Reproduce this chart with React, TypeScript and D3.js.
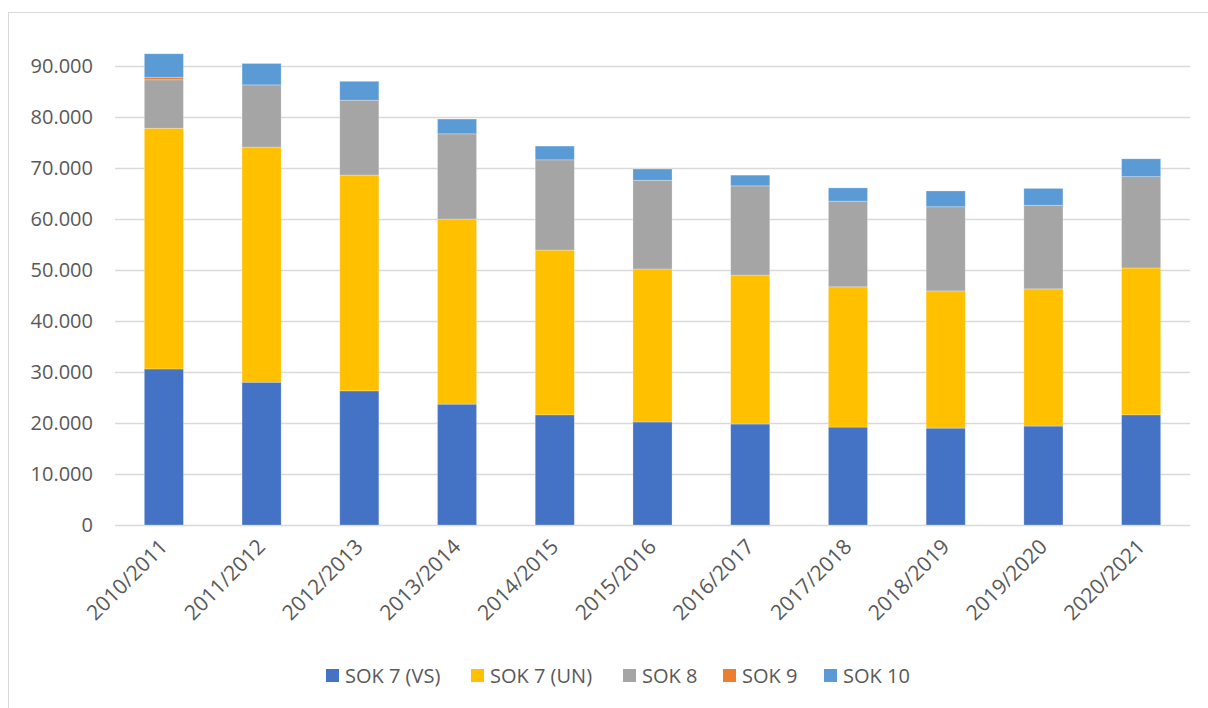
import React from "react";
import * as d3 from "d3";

const categories = ["2010/2011","2011/2012","2012/2013","2013/2014","2014/2015","2015/2016","2016/2017","2017/2018","2018/2019","2019/2020","2020/2021"];
const seriesNames = ["SOK 7 (VS)","SOK 7 (UN)","SOK 8","SOK 9","SOK 10"];
const sok7vs = [30600,28000,26300,23700,21600,20200,19800,19200,19000,19400,21600];
const sok7un = [47200,46100,42300,36300,32300,30000,29200,27500,26900,26900,28800];
const sok8 = [9500,12200,14700,16700,17700,17400,17500,16800,16500,16400,17900];
const sok9 = [500,0,0,0,0,0,0,0,0,0,0];
const sok10 = [4600,4200,3700,2900,2700,2200,2100,2600,3100,3300,3500];
const yTicks = [0,10000,20000,30000,40000,50000,60000,70000,80000,90000];
const colors = ["#4472C4","#FFC000","#A5A5A5","#ED7D31","#5B9BD5"];

const W = 1208, H = 708;
const left = 115, right = 1190, top = 66, bottom = 525;

export default function App() {
  const x = d3.scaleBand<string>().domain(categories).range([left, right]).paddingInner(0.6).paddingOuter(0.3);
  const y = d3.scaleLinear().domain([0, 90000]).range([bottom, top]);
  const table = categories.map((c, i) => ({ cat: c, s0: sok7vs[i], s1: sok7un[i], s2: sok8[i], s3: sok9[i], s4: sok10[i] }));
  const stack = d3.stack<any>().keys(["s0","s1","s2","s3","s4"])(table);
  const fmt = (v: number) => v === 0 ? "0" : d3.format(",")(v).replace(/,/g, ".");
  const font = "'Open Sans', sans-serif";
  const legendX = [326, 471, 623, 723, 824];
  return (
    <svg width={W} height={H} style={{ position: "absolute", left: 0, top: 0, background: "#fff" }}>
      <rect x={8.5} y={12.5} width={1220} height={720} fill="#fff" stroke="#D9D9D9" strokeWidth={1} />
      <g>
        {yTicks.map(t => (
          <g key={t}>
            <line x1={left} x2={right} y1={Math.round(y(t)) + 0.5} y2={Math.round(y(t)) + 0.5} stroke="#D9D9D9" strokeWidth={1.5} />
            <text x={93} y={y(t)} dy="0.35em" textAnchor="end" fontFamily={font} fontSize={20} fill="#595959">{fmt(t)}</text>
          </g>
        ))}
      </g>
      <g>
        {stack.map((layer, si) => (
          <g key={si} fill={colors[si]}>
            {layer.map((d, i) => (d[1] - d[0] > 0 ? (
              <rect key={i} x={x(categories[i])!} width={x.bandwidth()} y={y(d[1])} height={y(d[0]) - y(d[1])} stroke="#fff" strokeOpacity={0.35} strokeWidth={0.75} />
            ) : null))}
          </g>
        ))}
      </g>
      <g>
        {categories.map(c => {
          const cx = x(c)! + x.bandwidth() / 2 + 5;
          const cy = 548;
          return (
            <text key={c} x={cx} y={cy} textAnchor="end" transform={`rotate(-45 ${cx} ${cy})`} fontFamily={font} fontSize={21} fill="#595959">{c}</text>
          );
        })}
      </g>
      <g>
        {seriesNames.map((n, i) => (
          <g key={n}>
            <rect x={legendX[i]} y={669} width={13} height={13} fill={colors[i]} />
            <text x={legendX[i] + 19} y={676} dy="0.35em" fontFamily={font} fontSize={20} fill="#595959">{n}</text>
          </g>
        ))}
      </g>
    </svg>
  );
}
